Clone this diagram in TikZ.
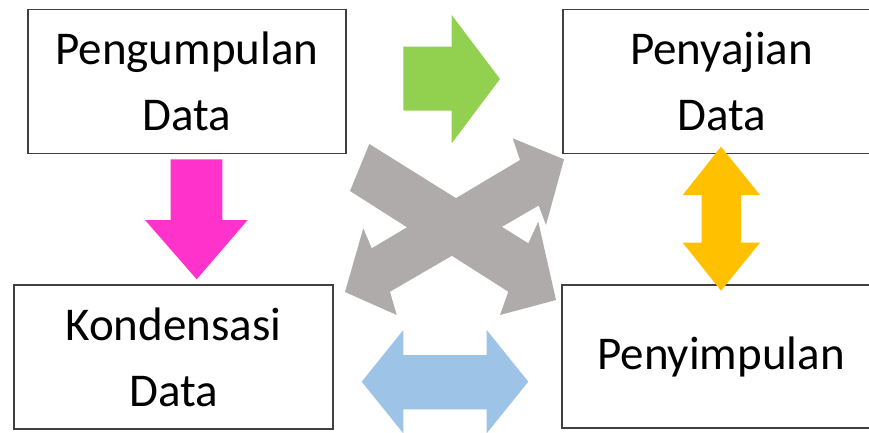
\documentclass[tikz,border=0pt]{standalone}
\usepackage{fontspec}
\setmainfont{Carlito}
\definecolor{boxline}{HTML}{404040}
\definecolor{pinkfill}{HTML}{FF33CC}
\definecolor{greenfill}{HTML}{92D050}
\definecolor{bluefill}{HTML}{9DC3E6}
\definecolor{yellowfill}{HTML}{FFC000}
\definecolor{grayfill}{HTML}{AFABAB}
\begin{document}
\begin{tikzpicture}[x=1pt,y=-1pt,
  stagebox/.style={draw=boxline, line width=1.5pt, fill=white, align=center,
    inner sep=0pt, font=\fontsize{47}{66}\selectfont},
  blockarrow/.style={draw=none}]
\useasboundingbox (0,0) rectangle (869,432);
\clip (0,0) rectangle (869,432);

% stage boxes
\node[stagebox, minimum width=318pt, minimum height=144pt] (kumpul) at (187,81.5) {Pengumpulan\\Data};
\node[stagebox, minimum width=317pt, minimum height=144pt] (saji) at (721.5,81.5) {Penyajian\\Data};
\node[stagebox, minimum width=319pt, minimum height=144pt] (kondensasi) at (173.5,357) {Kondensasi\\Data};
\node[stagebox, minimum width=318pt, minimum height=143pt] (simpul) at (721,356.5) {Penyimpulan};

% gray crossing arrows
\fill[grayfill, blockarrow] (369.3,144) -- (528.3,243.3) -- (538.3,221.7) -- (556,300)
  -- (500,315) -- (508.3,291.7) -- (350,191) -- cycle;
\fill[grayfill, blockarrow] (520,160) -- (512.7,138.3) -- (564,159.3) -- (546,225)
  -- (538.7,205.5) -- (390,291.7) -- (396.7,315) -- (345,292) -- (363.3,228.3)
  -- (371.7,248.3) -- cycle;

% pink down arrow
\fill[pinkfill, blockarrow] (170.7,159.3) -- (222.3,159.3) -- (222.3,220) -- (247.7,220)
  -- (196.7,279.3) -- (145,220) -- (170.7,220) -- cycle;

% green right arrow
\fill[greenfill, blockarrow] (403.3,46.7) -- (451.7,46.7) -- (451.7,15) -- (500,79)
  -- (451.7,143.3) -- (451.7,110.7) -- (403.3,110.7) -- cycle;

% blue left-right arrow
\fill[bluefill, blockarrow] (361.7,381.7) -- (403.3,330) -- (403.3,355) -- (486.7,355)
  -- (486.7,330) -- (528.3,381.7) -- (486.7,433.3) -- (486.7,409.3) -- (403.3,409.3)
  -- (403.3,433.3) -- cycle;

% yellow up-down arrow
\fill[yellowfill, blockarrow] (721,146.7) -- (760,195) -- (741,195) -- (741,242.7)
  -- (760,242.7) -- (721,290.7) -- (682.7,242.7) -- (701.7,242.7) -- (701.7,195)
  -- (682.7,195) -- cycle;
\end{tikzpicture}
\end{document}
